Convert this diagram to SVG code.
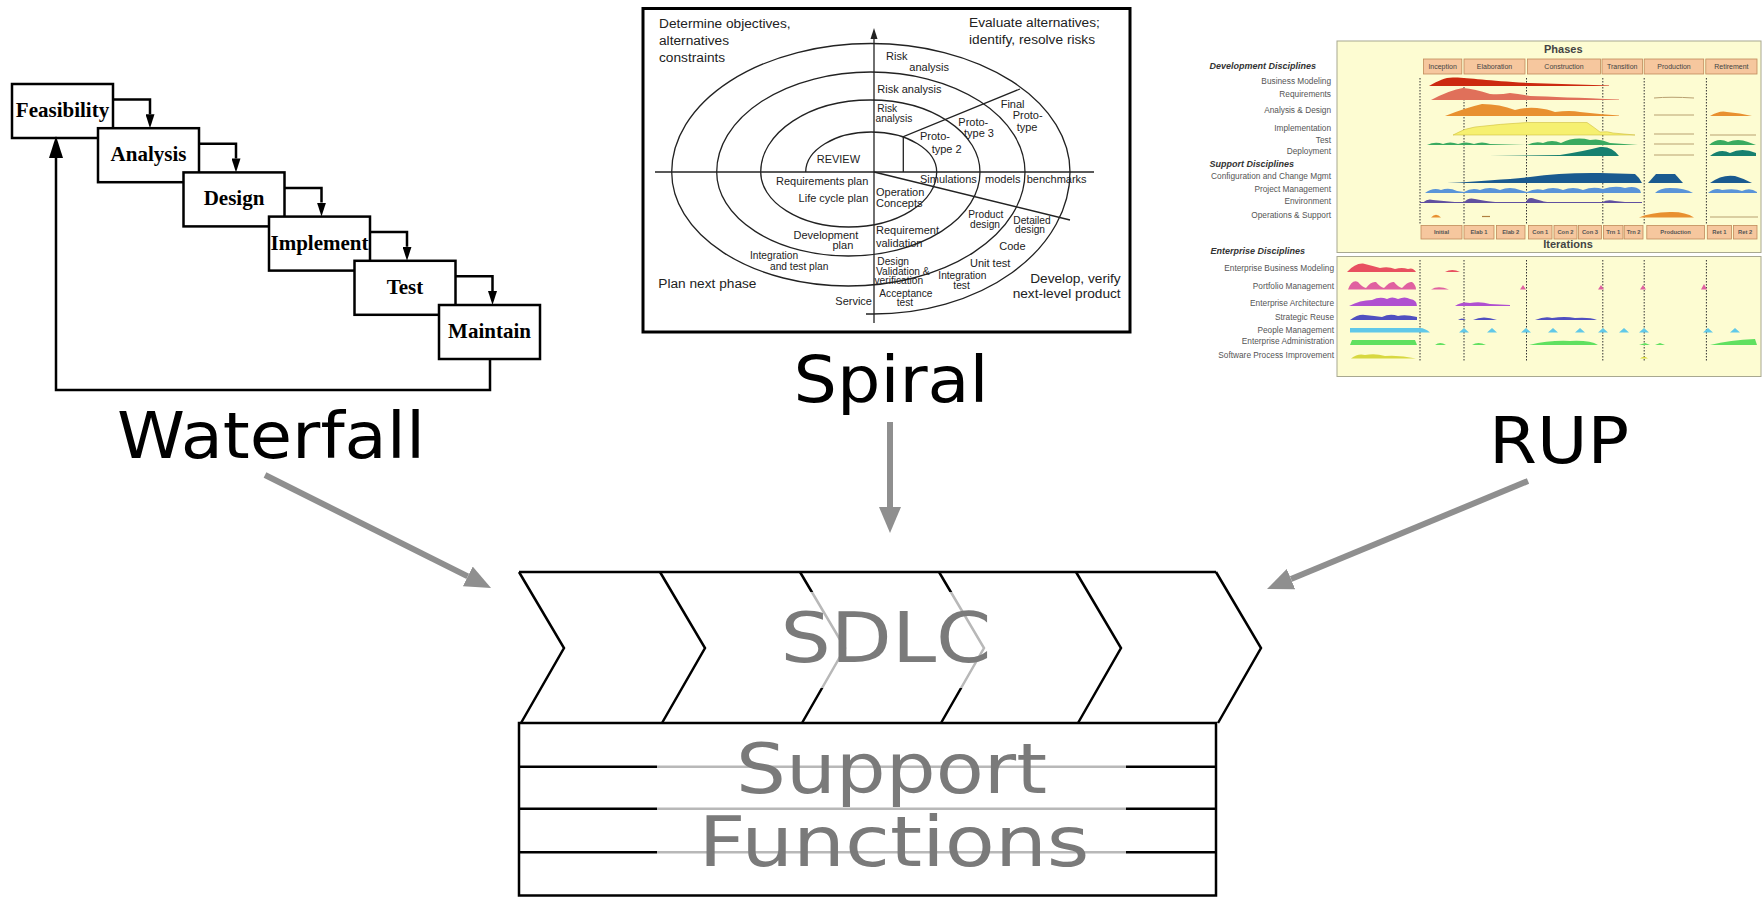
<svg xmlns="http://www.w3.org/2000/svg" width="1762" height="897" viewBox="0 0 1762 897">
<defs>
<style>
.wfbox{fill:#fff;stroke:#000;stroke-width:2.5}
.wft{font-family:"Liberation Serif","Times New Roman",serif;font-weight:bold;font-size:21px;text-anchor:middle;fill:#000}
.wfc{fill:none;stroke:#000;stroke-width:2.5}
.big{font-family:"DejaVu Sans",Verdana,sans-serif;font-size:64px;fill:#000}
.gray{fill:none;stroke:#8f8f8f;stroke-width:6}
.sp{fill:none;stroke:#222;stroke-width:1.3}
.st{font-family:"Liberation Sans",Arial,sans-serif;font-size:11px;fill:#222}
.ss{font-family:"Liberation Sans",Arial,sans-serif;font-size:10.2px;fill:#222}
.sq{font-family:"Liberation Sans",Arial,sans-serif;font-size:13.7px;fill:#222}
.rl{font-family:"Liberation Sans",Arial,sans-serif;font-size:8.3px;fill:#555;text-anchor:end}
.rh{font-family:"Liberation Sans",Arial,sans-serif;font-size:9px;font-weight:bold;font-style:italic;fill:#333}
.ph{fill:#f6c79e;stroke:#c08a5a;stroke-width:0.8}
.pt{font-family:"Liberation Sans",Arial,sans-serif;font-size:7px;fill:#444;text-anchor:middle}
.it{font-family:"Liberation Sans",Arial,sans-serif;font-size:5.8px;font-weight:bold;fill:#555;text-anchor:middle}
.dot{stroke:#333;stroke-width:1;stroke-dasharray:1.5 1.5}
.sd{fill:none;stroke:#000;stroke-width:2.5}
.sdt{font-family:"DejaVu Sans",Verdana,sans-serif;font-size:70px;fill:#7a7a7a;text-anchor:middle}
</style>
<marker id="wfA" viewBox="0 0 14 9" refX="0" refY="4.5" markerWidth="14" markerHeight="9" markerUnits="userSpaceOnUse" orient="auto"><path d="M0,0 L14,4.5 L0,9 z" fill="#000"/></marker>
<marker id="wfB" viewBox="0 0 22 14" refX="0" refY="7" markerWidth="22" markerHeight="14" markerUnits="userSpaceOnUse" orient="auto"><path d="M0,0 L22,7 L0,14 z" fill="#000"/></marker>
<marker id="gA" viewBox="0 0 26 22" refX="0" refY="11" markerWidth="26" markerHeight="22" markerUnits="userSpaceOnUse" orient="auto"><path d="M0,0 L26,11 L0,22 z" fill="#8f8f8f"/></marker>
</defs>
<rect width="1762" height="897" fill="#fff"/>

<!-- Waterfall -->
<g id="waterfall">
<g id="wf-feasibility"><rect class="wfbox" x="12" y="84" width="101" height="54"/><text class="wft" x="62.5" y="117">Feasibility</text></g>
<g id="wf-analysis"><rect class="wfbox" x="98" y="128.2" width="101" height="54"/><text class="wft" x="148.5" y="161.2">Analysis</text></g>
<g id="wf-design"><rect class="wfbox" x="183.5" y="172.4" width="101" height="54"/><text class="wft" x="234" y="205.4">Design</text></g>
<g id="wf-implement"><rect class="wfbox" x="269" y="216.6" width="101" height="54"/><text class="wft" x="319.5" y="249.6">Implement</text></g>
<g id="wf-test"><rect class="wfbox" x="354.5" y="260.8" width="101" height="54"/><text class="wft" x="405" y="293.8">Test</text></g>
<g id="wf-maintain"><rect class="wfbox" x="439" y="305" width="101" height="54"/><text class="wft" x="489.5" y="338">Maintain</text></g>
</g>

<!-- Spiral -->
<g id="spiral">
<rect x="643" y="8.5" width="487" height="323.5" fill="#fff" stroke="#000" stroke-width="3"/>
<path class="sp" d="M874,323 L874,36"/>
<path d="M874,28 L870.5,39 L877.5,39 z" fill="#222"/>
<path class="sp" d="M655,172 L1094,172"/>
<path class="sp" d="M805.7,172 A65.5,40 0 0 1 936.7,172 A88,55 0 0 1 760.7,172 A109.65,72 0 0 1 980,172 A131.65,84 0 0 1 716.7,172 A154.15,100 0 0 1 1025,172 A176.65,114 0 0 1 671.7,172 A199.15,128.5 0 0 1 1070,172 A197,142 0 0 1 873,314 L866,314"/>
<path class="sp" d="M903.3,172 L903.3,136.7 L1020,89"/>
<path class="sp" d="M874,172 L1070,220"/>
<text class="sq" x="659" y="28.3">Determine objectives,</text>
<text class="sq" x="659" y="44.5">alternatives</text>
<text class="sq" x="659" y="62">constraints</text>
<text class="sq" x="969" y="26.7">Evaluate alternatives;</text>
<text class="sq" x="969" y="44.3">identify, resolve risks</text>
<text class="sq" x="658.3" y="288.3">Plan next phase</text>
<text class="sq" x="1120.7" y="283.3" text-anchor="end">Develop, verify</text>
<text class="sq" x="1120.7" y="298.3" text-anchor="end">next-level product</text>
<text class="st" x="886" y="60">Risk</text>
<text class="st" x="909.3" y="70.7">analysis</text>
<text class="st" x="877.3" y="93.3">Risk analysis</text>
<text class="ss" x="877.3" y="111.5">Risk</text>
<text class="ss" x="875.5" y="121.5">analysis</text>
<text class="st" x="920" y="140">Proto-</text>
<text class="st" x="931.7" y="153.3">type 2</text>
<text class="st" x="958.3" y="126">Proto-</text>
<text class="st" x="964" y="136.7">type 3</text>
<text class="st" x="1000.7" y="108.3">Final</text>
<text class="st" x="1012.7" y="119.3">Proto-</text>
<text class="st" x="1016.7" y="131">type</text>
<text class="st" x="816.7" y="163.3" font-size="12">REVIEW</text>
<text class="st" x="868.3" y="185" text-anchor="end">Requirements plan</text>
<text class="st" x="868.3" y="202.3" text-anchor="end">Life cycle plan</text>
<text class="st" x="858.3" y="238.5" text-anchor="end">Development</text>
<text class="st" x="853.3" y="249" text-anchor="end">plan</text>
<text class="ss" x="750" y="259">Integration</text>
<text class="ss" x="770" y="269.5">and test plan</text>
<text class="st" x="872" y="305" text-anchor="end">Service</text>
<text class="st" x="920" y="183.3">Simulations</text>
<text class="st" x="985" y="183.3">models</text>
<text class="st" x="1026.7" y="183.3">benchmarks</text>
<text class="st" x="876" y="195.7">Operation</text>
<text class="st" x="876" y="206.7">Concepts</text>
<text class="ss" x="968.3" y="218">Product</text>
<text class="ss" x="970" y="227.5">design</text>
<text class="ss" x="1013.3" y="224">Detailed</text>
<text class="ss" x="1015" y="233">design</text>
<text class="st" x="876" y="234">Requirement</text>
<text class="st" x="876" y="246.7">validation</text>
<text class="st" x="999.3" y="250">Code</text>
<text class="ss" x="877.3" y="264.5">Design</text>
<text class="ss" x="876" y="274.5">Validation &amp;</text>
<text class="ss" x="874.5" y="284">verification</text>
<text class="st" x="970" y="266.7">Unit test</text>
<text class="ss" x="938.3" y="279">Integration</text>
<text class="ss" x="953.3" y="289">test</text>
<text class="ss" x="879.3" y="296.5">Acceptance</text>
<text class="ss" x="896.7" y="305.5">test</text>
</g>

<!-- RUP -->
<g id="rup">
<rect x="1337" y="41" width="424" height="211.5" fill="#fdfcd2" stroke="#a8a890" stroke-width="1"/>
<rect x="1337" y="256.5" width="424" height="120" fill="#fdfcd2" stroke="#a8a890" stroke-width="1"/>
<text x="1563.3" y="53.3" font-family="Liberation Sans, Arial, sans-serif" font-size="11" font-weight="bold" fill="#444" text-anchor="middle">Phases</text>
<text x="1568" y="248.3" font-family="Liberation Sans, Arial, sans-serif" font-size="11" font-weight="bold" fill="#444" text-anchor="middle">Iterations</text>
<rect class="ph" x="1423.5" y="59" width="38.3" height="15"/><text class="pt" x="1442.6" y="69">Inception</text>
<rect class="ph" x="1464" y="59" width="61" height="15"/><text class="pt" x="1494.5" y="69">Elaboration</text>
<rect class="ph" x="1527.5" y="59" width="73" height="15"/><text class="pt" x="1564" y="69">Construction</text>
<rect class="ph" x="1602" y="59" width="40.4" height="15"/><text class="pt" x="1622.2" y="69">Transition</text>
<rect class="ph" x="1644.2" y="59" width="59.5" height="15"/><text class="pt" x="1674" y="69">Production</text>
<rect class="ph" x="1705.8" y="59" width="51.2" height="15"/><text class="pt" x="1731.4" y="69">Retirement</text>
<rect class="ph" x="1421" y="225.5" width="41" height="13.5"/><text class="it" x="1441.5" y="234.3">Initial</text>
<rect class="ph" x="1464" y="225.5" width="30" height="13.5"/><text class="it" x="1479" y="234.3">Elab 1</text>
<rect class="ph" x="1496.5" y="225.5" width="28.5" height="13.5"/><text class="it" x="1510.7" y="234.3">Elab 2</text>
<rect class="ph" x="1528.6" y="225.5" width="23.4" height="13.5"/><text class="it" x="1540.3" y="234.3">Con 1</text>
<rect class="ph" x="1554" y="225.5" width="23" height="13.5"/><text class="it" x="1565.5" y="234.3">Con 2</text>
<rect class="ph" x="1578.5" y="225.5" width="23" height="13.5"/><text class="it" x="1590" y="234.3">Con 3</text>
<rect class="ph" x="1603.4" y="225.5" width="19.6" height="13.5"/><text class="it" x="1613.2" y="234.3">Trn 1</text>
<rect class="ph" x="1624.2" y="225.5" width="18.8" height="13.5"/><text class="it" x="1633.6" y="234.3">Trn 2</text>
<rect class="ph" x="1646.8" y="225.5" width="57.6" height="13.5"/><text class="it" x="1675.6" y="234.3">Production</text>
<rect class="ph" x="1707.3" y="225.5" width="24.2" height="13.5"/><text class="it" x="1719.4" y="234.3">Ret 1</text>
<rect class="ph" x="1733.5" y="225.5" width="23.5" height="13.5"/><text class="it" x="1745.2" y="234.3">Ret 2</text>
<g class="dot">
<path d="M1420,78 V224 M1464,78 V224 M1526.5,78 V224 M1602.8,78 V224 M1644.2,78 V224 M1706.4,78 V224"/>
<path d="M1420,260 V362 M1464,260 V362 M1526.5,260 V362 M1602.8,260 V362 M1644.2,260 V362 M1706.4,260 V362"/>
</g>
<path d="M1429,86 C1440,80 1445,77 1455,77.5 C1470,78 1490,81 1530,83 L1609,85.5 L1609,86 Z" fill="#cc2a10"/>
<path d="M1431,100 Q1450,90 1463,88 Q1475,89 1490,94 Q1500,95 1510,93 Q1520,94 1530,96 Q1560,97 1619,99.5 L1619,100 Z" fill="#e0705a"/>
<path d="M1654,98 Q1670,96.5 1694,98" fill="none" stroke="#b8a070" stroke-width="1"/>
<path d="M1445,116 Q1465,108 1482,104 Q1500,104 1515,110 Q1525,107 1537,108 Q1548,109 1555,112 Q1570,110 1580,112 Q1600,114 1619,115.5 L1619,116 Z" fill="#e89030"/>
<path d="M1654,115 L1694,115 M1654,134 L1694,134 M1654,144 L1694,144 M1654,155 L1694,155 M1710,135 L1756,135" fill="none" stroke="#b8a070" stroke-width="1"/>
<path d="M1710,116 Q1720,110 1727,112 Q1740,113 1752,116 Z" fill="#e89030"/>
<path d="M1453,135 Q1465,128 1475,127 Q1500,124 1527,122.5 L1587,122.5 Q1595,128 1600,132 Q1608,131 1613,133 L1635,135 Z" fill="#f6f070" stroke="#d0c040" stroke-width="0.6"/>
<path d="M1427,145 Q1435,141 1443,144 Q1450,141 1458,144 Q1466,141 1474,144 Q1482,141 1490,144 L1527,145 Q1535,141 1543,143 Q1552,139 1561,143 Q1575,136 1590,140 Q1600,138 1610,143 L1638,145 Z" fill="#3aaa60"/>
<path d="M1709,145 Q1718,137 1728,142 Q1738,138 1748,142 L1756,145 Z" fill="#3aaa60"/>
<path d="M1489,156 L1560,155 Q1585,151 1600,147 Q1612,146 1619,156 Z" fill="#17806f"/>
<path d="M1710,156 Q1720,148 1730,153 Q1742,147 1756,153 L1756,156 Z" fill="#17806f"/>
<path d="M1447,183 Q1500,180 1530,177 Q1560,172.5 1600,173 L1635,174 Q1640,178 1642,183 Z" fill="#1a5a8f"/>
<path d="M1648,183 L1656,174 L1675,174 L1683,183 Z" fill="#1a5a8f"/>
<path d="M1710,183 Q1722,174 1735,176 Q1745,179 1752,183 Z" fill="#1a5a8f"/>
<path d="M1425,193 Q1433,187 1441,190 Q1449,187 1457,191 L1464,192 Q1472,187 1480,190 Q1490,186 1500,190 Q1510,186 1520,190 L1527,192 Q1535,188 1543,190 Q1553,186 1563,190 Q1573,186 1583,190 Q1593,186 1603,189 Q1615,185 1625,188 Q1635,185 1640,190 L1641,193 Z" fill="#5a94d8"/>
<path d="M1655,193 Q1660,188 1670,188 Q1685,188 1693,193 Z" fill="#5a94d8"/>
<path d="M1708,193 Q1715,187 1722,190 Q1735,188 1742,191 Q1750,187 1757,192 L1757,193 Z" fill="#5a94d8"/>
<path d="M1420,202.5 L1642,202.5" stroke="#6050a0" stroke-width="1"/>
<path d="M1423,202.5 Q1428,198 1433,200 L1460,202.5 Z M1464,202.5 Q1468,197 1475,199 Q1485,201 1500,202.5 Z M1526,202.5 Q1528,196 1535,199 Q1545,202 1550,202.5 Z M1602,202.5 Q1607,199 1615,201 L1630,202.5 Z" fill="#6050a0"/>
<path d="M1431,217.5 Q1436,212 1441,217.5 Z" fill="#e89030"/>
<path d="M1482,216.5 L1490,216.5" stroke="#b08040" stroke-width="1.2"/>
<path d="M1639,217.5 Q1650,212.5 1670,212 Q1685,211.5 1694,217.5 Z" fill="#e89030"/>
<path d="M1710,217 L1758,217" stroke="#b8a070" stroke-width="1.2"/>
<path d="M1347,272 Q1355,263 1363,263.5 Q1373,266 1380,268 Q1388,266 1395,269 Q1402,267 1408,269 Q1413,267 1416,272 Z" fill="#e85060"/>
<path d="M1445,272 Q1452,268 1460,272 Z" fill="#e85060"/>
<path d="M1348,289.5 Q1352,279 1358,282 Q1362,287 1366,288 Q1371,281 1376,282 Q1380,287 1384,288 Q1390,281 1394,282 Q1398,287 1402,288 Q1408,281 1412,282 Q1416,285 1416,289.5 Z" fill="#e060a0"/>
<path d="M1431,289.5 Q1438,285 1449,289.5 Z M1520,289.5 L1523,285 L1526,289.5 Z M1598,289.5 L1601,285 L1604,289.5 Z M1640,289.5 L1643,285 L1646,289.5 Z M1701,289.5 L1704,284 L1707,289.5 Z" fill="#e060a0"/>
<path d="M1349,306 Q1360,300 1372,300 Q1380,296 1387,299 Q1392,296 1398,299 Q1405,296 1410,299 Q1417,300 1417,306 Z" fill="#b050d0"/>
<path d="M1455,306 Q1462,301 1470,303 Q1480,301 1490,304 L1510,305 L1510,306 Z" fill="#b050d0"/>
<path d="M1350,320 Q1358,314 1365,315 Q1375,316 1382,317 Q1390,313 1398,316 Q1405,314 1417,317 L1417,320 Z" fill="#5050c0"/>
<path d="M1458,320 Q1462,317 1466,320 Z M1473,320 Q1483,315 1497,320 Z M1535,320 Q1545,316 1552,318 Q1565,316 1575,318 Q1590,317 1597,320 Z" fill="#5050c0"/>
<path d="M1350,332.5 L1350,328 L1420,328 Q1425,328 1430,332.5 Z" fill="#60c8e8"/>
<path d="M1459,332.5 L1464,328 L1469,332.5 Z M1487,332.5 L1492,328 L1497,332.5 Z M1521,332.5 L1526,328 L1531,332.5 Z M1548,332.5 L1553,328 L1558,332.5 Z M1575,332.5 L1580,328 L1585,332.5 Z M1598,332.5 L1603,328 L1608,332.5 Z M1619,332.5 L1624,328 L1629,332.5 Z M1639,332.5 L1644,328 L1649,332.5 Z M1703,332.5 L1708,328 L1713,332.5 Z M1730,332.5 L1735,328 L1740,332.5 Z" fill="#60c8e8"/>
<path d="M1350,345 L1352,340 L1415,340 L1417,345 Z" fill="#60e060"/>
<path d="M1435,345 Q1440,341 1446,345 Z M1472,345 Q1478,341 1486,345 Z M1529,345 Q1550,340 1570,341 Q1590,340 1598,345 Z M1639,345 L1645,343 L1650,345 Z M1655,345 L1660,343 L1665,345 Z M1710,345 Q1730,340 1755,339 L1757,345 Z" fill="#60e060"/>
<path d="M1351,358.5 Q1358,353 1365,355 Q1375,353 1385,356 Q1400,355 1416,358.5 Z" fill="#d8d840"/>
<path d="M1640,358.5 Q1644,355 1648,358.5 Z" fill="#d8d840"/>
<text class="rh" x="1209.5" y="69">Development Disciplines</text>
<text class="rl" x="1331" y="84.3">Business Modeling</text>
<text class="rl" x="1331" y="97.3">Requirements</text>
<text class="rl" x="1331" y="112.7">Analysis &amp; Design</text>
<text class="rl" x="1331" y="130.7">Implementation</text>
<text class="rl" x="1331" y="142.7">Test</text>
<text class="rl" x="1331" y="154">Deployment</text>
<text class="rh" x="1209.5" y="166.7">Support Disciplines</text>
<text class="rl" x="1331" y="179.3">Configuration and Change Mgmt</text>
<text class="rl" x="1331" y="191.7">Project Management</text>
<text class="rl" x="1331" y="203.7">Environment</text>
<text class="rl" x="1331" y="217.7">Operations &amp; Support</text>
<text class="rh" x="1210.5" y="254.3">Enterprise Disciplines</text>
<text class="rl" x="1334" y="271.3">Enterprise Business Modeling</text>
<text class="rl" x="1334" y="288.7">Portfolio Management</text>
<text class="rl" x="1334" y="306">Enterprise Architecture</text>
<text class="rl" x="1334" y="320">Strategic Reuse</text>
<text class="rl" x="1334" y="332.7">People Management</text>
<text class="rl" x="1334" y="344.3">Enterprise Administration</text>
<text class="rl" x="1334" y="357.7">Software Process Improvement</text>
</g>

<!-- Labels -->
<g id="label-waterfall"><text class="big" x="117" y="458.3" textLength="308" lengthAdjust="spacingAndGlyphs">Waterfall</text></g>
<g id="label-spiral"><text class="big" x="793.5" y="402.3" textLength="195" lengthAdjust="spacingAndGlyphs">Spiral</text></g>
<g id="label-rup"><text class="big" x="1489" y="463" textLength="140" lengthAdjust="spacingAndGlyphs">RUP</text></g>

<!-- SDLC -->
<g id="sdlc">
<path class="sd" d="M519,572 H1216"/>
<path class="sd" d="M519,572 L564,648 L521,723 M660,572 L705,648 L662,723 M800,572 L845,648 L802,723 M939,572 L984,648 L941,723 M1076,572 L1121,648 L1078,723 M1216,572 L1261,648 L1218,723"/>
<rect x="712" y="592" width="356" height="96" fill="#fff" opacity="0.72"/>
<text class="sdt" x="886" y="662" font-size="74" textLength="211" lengthAdjust="spacingAndGlyphs">SDLC</text>
</g>
<g id="support">
<rect class="sd" x="519" y="723" width="697" height="172.5" fill="none"/>
<path class="sd" d="M519,766.7 H1216 M519,808.7 H1216 M519,852.3 H1216"/>
<rect x="657" y="735" width="469" height="150" fill="#fff" opacity="0.72"/>
<text class="sdt" x="891.5" y="793" textLength="311" lengthAdjust="spacingAndGlyphs">Support</text>
<text class="sdt" x="894" y="865.5" textLength="391" lengthAdjust="spacingAndGlyphs">Functions</text>
</g>

<!-- Connectors -->
<g id="connectors">
<path class="wfc" d="M113,99.5 H150 V114.2" marker-end="url(#wfA)"/>
<path class="wfc" d="M199,143.7 H236 V158.4" marker-end="url(#wfA)"/>
<path class="wfc" d="M284.5,187.9 H321.5 V202.6" marker-end="url(#wfA)"/>
<path class="wfc" d="M370,232.1 H407 V246.8" marker-end="url(#wfA)"/>
<path class="wfc" d="M455.5,276.3 H492.5 V291" marker-end="url(#wfA)"/>
<path class="wfc" d="M490,359 V390 H56 V158" stroke-width="2.2" marker-end="url(#wfB)"/>
<path class="gray" d="M265,475 L467.8,576.4" marker-end="url(#gA)"/>
<path class="gray" d="M890,422 L890,507" marker-end="url(#gA)"/>
<path class="gray" d="M1528,481 L1291,579.1" marker-end="url(#gA)"/>
</g>
</svg>
